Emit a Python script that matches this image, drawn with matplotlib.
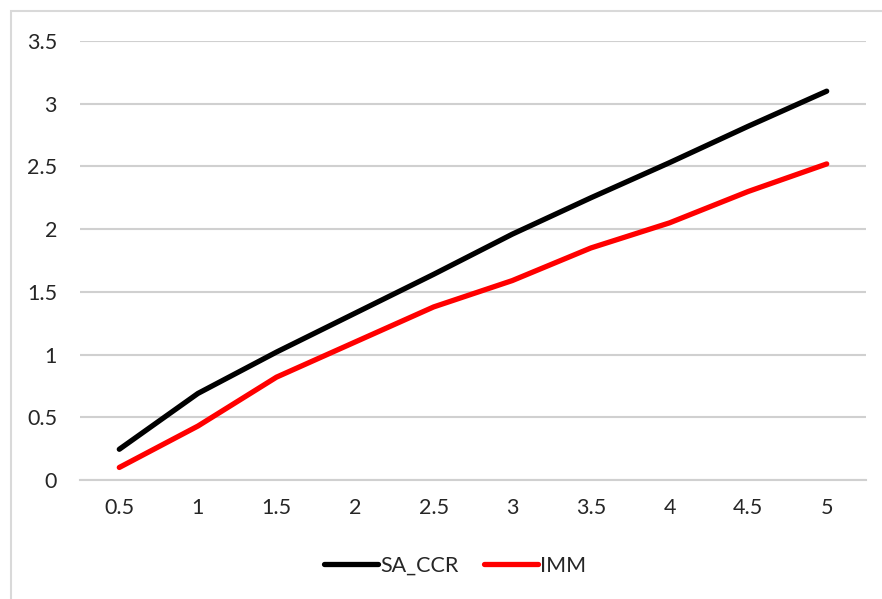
import numpy as np
import matplotlib.pyplot as plt
from matplotlib.patches import Rectangle

plt.rcParams['font.family'] = ['Lato', 'DejaVu Sans']

# category labels and series values
x_labels = ['0.5', '1', '1.5', '2', '2.5', '3', '3.5', '4', '4.5', '5']
sa_ccr = [0.245, 0.69, 1.02, 1.33, 1.64, 1.96, 2.25, 2.53, 2.82, 3.10]
imm = [0.10, 0.43, 0.82, 1.10, 1.38, 1.59, 1.85, 2.05, 2.30, 2.52]

fig = plt.figure(figsize=(8.82, 5.99), dpi=100)
W, H = 882, 599
ax = fig.add_axes([80 / W, 1 - 480 / H, (866 - 80) / W, (480 - 41) / H])

# light outer chart border
fig.patches.append(Rectangle((11 / W, -0.05), 1.1, 1 - 11 / H + 0.05,
                             transform=fig.transFigure, fill=False,
                             edgecolor='#d9d9d9', linewidth=1.5))

xi = np.arange(len(x_labels))
ax.plot(xi, sa_ccr, color='black', lw=3.8, solid_capstyle='round',
        solid_joinstyle='round', label='SA_CCR', zorder=3)
ax.plot(xi, imm, color='#ff0000', lw=3.8, solid_capstyle='round',
        solid_joinstyle='round', label='IMM', zorder=3)

ax.set_xlim(-0.5, len(x_labels) - 0.5)
ax.set_ylim(0, 3.5)
ax.set_yticks(np.arange(0, 3.51, 0.5))
ax.set_yticklabels(['0', '0.5', '1', '1.5', '2', '2.5', '3', '3.5'])
ax.set_xticks(xi)
ax.set_xticklabels(x_labels)
ax.grid(axis='y', color='#d0d0d0', lw=1.5)
ax.set_axisbelow(True)
for s in ['top', 'right', 'left']:
    ax.spines[s].set_visible(False)
ax.spines['bottom'].set_color('#d0d0d0')
ax.spines['bottom'].set_linewidth(1.5)
ax.tick_params(axis='both', length=0, labelsize=15.5, colors='#262626')
ax.tick_params(axis='y', pad=16.5)
ax.tick_params(axis='x', pad=13)

leg = fig.legend(loc='center', bbox_to_anchor=(455 / W, 1 - 566 / H), ncol=2,
                 frameon=False, fontsize=15.5, handlelength=2.5,
                 handletextpad=0.1, columnspacing=1.2)
for t in leg.get_texts():
    t.set_color('#262626')

fig.savefig('out.png', dpi=100)
